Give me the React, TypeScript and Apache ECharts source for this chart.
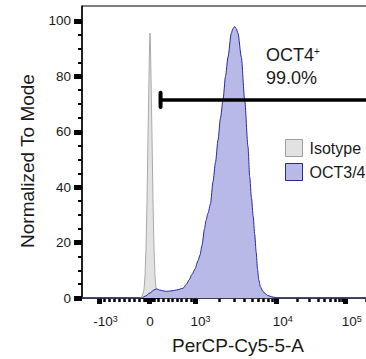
import React, { useEffect, useRef } from "react";
import * as echarts from "echarts";

// ---- data (x in display channels of the biexponential scale, y = % of mode) ----
const ISO_CH = [0, 58, 60, 62, 63, 64, 65, 66, 67, 67.6, 68, 68.4, 69, 70, 71, 72, 73, 74, 76, 78, 312];
const ISO_VAL = [0, 0, 0.5, 3, 8, 18, 35, 58, 80, 92, 95.6, 92, 80, 58, 35, 18, 8, 3, 0.5, 0, 0];

const OCT_CH = [0, 59.5, 63, 68, 72, 74.7, 78, 84.7, 90, 94.7, 101, 104.5, 107, 110, 113, 116, 118, 120, 122.5, 124, 126, 128.5, 131, 133.5, 136, 138.5, 141, 143.5, 146, 149.3, 151, 152.7, 154.2, 156, 159.3, 162.7, 166, 167.7, 169.5, 171.2, 172.7, 174.2, 175.5, 176.8, 178.5, 180.5, 183, 186, 190, 196, 312];
const OCT_VAL = [0, 0, 0.6, 1.8, 2.9, 3.3, 2.8, 2.4, 2.6, 2.9, 3.5, 5, 6.5, 8.5, 10.5, 13.5, 15.5, 19, 25, 28, 30.6, 34, 42, 49, 57, 65, 71.5, 80, 87, 95.6, 97.3, 98, 97.3, 95.6, 87, 71.5, 54.6, 43.8, 36, 29.5, 23, 16.5, 10.5, 6.5, 4, 2.6, 1.6, 0.9, 0.4, 0, 0];

// ---- axis ticks & labels ----
const Y_MAJOR = [0, 20, 40, 60, 80, 100];
const Y_MINOR = [5, 10, 15, 25, 30, 35, 45, 50, 55, 65, 70, 75, 85, 90, 95];
const X_MAJOR_RAW = [-1000, 0, 1000, 10000, 100000];
const X_LABEL_BASE = ["-10", "0", "10", "10", "10"];
const X_LABEL_EXP = ["3", "", "3", "4", "5"];
const X_LABEL_NUDGE = [6.5, 0.5, 5, 6.8, 6];

// gate
const GATE_START_RAW = 240;
const GATE_Y = 71.5;
const GATE_LABEL = "OCT4";
const GATE_PCT = "99.0%";

// ---- biexponential display scale ----
const DISP_MAX = 312;
const Y_MAX = 105.4;
const ZERO = 67.5;
const NEG_SLOPE = 0.0505;
const POS_SLOPE = 0.046;
const DEC_A = 80.5;
const DEC_B = 69.7;
function biex(v: number): number {
  const u1e3 = ZERO + 1000 * POS_SLOPE;
  const u1e4 = u1e3 + DEC_A;
  if (v < 0) return ZERO + v * NEG_SLOPE;
  if (v <= 1000) return ZERO + v * POS_SLOPE;
  if (v <= 10000) return u1e3 + DEC_A * Math.log10(v / 1000);
  return u1e4 + DEC_B * Math.log10(v / 10000);
}
function minorRaw(): number[] {
  const out: number[] = [];
  for (let k = 1; k <= 9; k++) {
    out.push(k * 10, -k * 10, k * 100, -k * 100);
    if (k >= 2) out.push(k * 1000, k * 10000, k * 100000);
  }
  return out;
}

const FONT = "'Liberation Sans', Arial, Helvetica, sans-serif";
const TXT = "#1a1a1a";
const ISO_FILL = "#e2e2e2";
const ISO_LINE = "#a9a9a9";
const OCT_FILL = "#b9b9e8";
const OCT_LINE = "#2a2a9c";

export default function App() {
  const ref = useRef<HTMLDivElement>(null);
  useEffect(() => {
    if (!ref.current) return;
    const chart = echarts.init(ref.current, undefined, { renderer: "svg" });
    const majorPos = X_MAJOR_RAW.map(biex);
    const labelPos = X_MAJOR_RAW.map((v, i) => biex(v) + X_LABEL_NUDGE[i]);
    const minorPos = minorRaw().map(biex).filter((u) => u >= 0 && u <= DISP_MAX);
    const gx = biex(GATE_START_RAW);

    chart.setOption({
      animation: false,
      grid: {
        left: 82, right: -28, top: 6, bottom: 61, show: true, borderColor: "#000", borderWidth: 1,
        backgroundColor: "transparent", containLabel: false, outerBoundsMode: "none",
      },
      xAxis: [
        {
          type: "value", position: "bottom", min: 0, max: DISP_MAX,
          axisLine: { show: true, onZero: false, lineStyle: { color: "#000", width: 1.5 } },
          axisTick: { show: true, customValues: majorPos, length: 6, lineStyle: { color: "#000", width: 5 } },
          axisLabel: {
            show: true, customValues: labelPos, margin: 16, color: TXT, fontSize: 13.5, fontFamily: FONT,
            formatter: (v: number) => {
              let best = 0;
              labelPos.forEach((p, i) => { if (Math.abs(p - v) < Math.abs(labelPos[best] - v)) best = i; });
              const b = X_LABEL_BASE[best];
              const e = X_LABEL_EXP[best];
              return e ? `{b|${b}}{s|${e}}` : `{b|${b}}`;
            },
            rich: {
              b: { fontSize: 13.5, color: TXT, fontFamily: FONT, verticalAlign: "bottom" },
              s: { fontSize: 9, color: TXT, fontFamily: FONT, verticalAlign: "top" },
            },
          },
          splitLine: { show: false },
          name: "PerCP-Cy5-5-A", nameLocation: "middle", nameGap: 38,
          nameTextStyle: { fontSize: 19, color: TXT, fontFamily: FONT },
        },
        {
          type: "value", position: "bottom", min: 0, max: DISP_MAX,
          axisLine: { show: false, onZero: false },
          axisTick: { show: true, customValues: minorPos, length: 4, lineStyle: { color: "#000", width: 2.5 } },
          axisLabel: { show: false },
          splitLine: { show: false },
        },
      ],
      yAxis: [
        {
          type: "value", position: "left", min: 0, max: Y_MAX,
          axisLine: { show: true, onZero: false, lineStyle: { color: "#000", width: 1.5 } },
          axisTick: { show: true, customValues: Y_MAJOR, length: 8, lineStyle: { color: "#000", width: 5 } },
          axisLabel: { show: true, customValues: Y_MAJOR, margin: 11, color: TXT, fontSize: 13.5, fontFamily: FONT },
          splitLine: { show: false },
        },
        {
          type: "value", position: "left", min: 0, max: Y_MAX,
          axisLine: { show: false, onZero: false },
          axisTick: { show: true, customValues: Y_MINOR, length: 4, lineStyle: { color: "#000", width: 2 } },
          axisLabel: { show: false },
          splitLine: { show: false },
        },
      ],
      legend: {
        orient: "vertical", left: 285, top: 139, itemWidth: 17, itemHeight: 17, itemGap: 6, padding: 0,
        selectedMode: false,
        textStyle: { fontSize: 16, color: TXT, fontFamily: FONT, padding: [0, 0, 0, 2] },
        data: [
          { name: "Isotype", icon: "rect", itemStyle: { color: ISO_FILL, borderColor: "#a0a0a0", borderWidth: 1 } },
          { name: "OCT3/4", icon: "rect", itemStyle: { color: OCT_FILL, borderColor: OCT_LINE, borderWidth: 1 } },
        ],
      },
      series: [
        {
          name: "Isotype", type: "line", xAxisIndex: 0, yAxisIndex: 0, showSymbol: false, symbol: "none",
          data: ISO_CH.map((c, i) => [c, ISO_VAL[i]]),
          lineStyle: { color: ISO_LINE, width: 1 }, itemStyle: { color: ISO_FILL },
          areaStyle: { color: ISO_FILL, opacity: 1 }, z: 2,
        },
        {
          name: "OCT3/4", type: "line", xAxisIndex: 0, yAxisIndex: 0, showSymbol: false, symbol: "none",
          smooth: 0.25, smoothMonotone: "x",
          data: OCT_CH.map((c, i) => [c, OCT_VAL[i]]),
          lineStyle: { color: OCT_LINE, width: 1 }, itemStyle: { color: OCT_FILL },
          areaStyle: { color: OCT_FILL, opacity: 1 }, z: 3,
        },
        {
          name: "gate", type: "line", symbol: "none", silent: true, z: 5,
          data: [[gx, GATE_Y], [DISP_MAX, GATE_Y]],
          lineStyle: { color: "#000", width: 3.5 },
        },
        {
          name: "gateCap", type: "line", symbol: "none", silent: true, z: 5,
          data: [[gx, GATE_Y - 2.6], [gx, GATE_Y + 2.6]],
          lineStyle: { color: "#000", width: 4, cap: "round" },
        },
      ],
      graphic: [
        {
          type: "text", x: 27.5, y: 161, rotation: Math.PI / 2,
          style: { text: "Normalized To Mode", fill: TXT, font: `19px ${FONT}`, align: "center", verticalAlign: "middle" },
        },
        {
          type: "text", x: 266, y: 55,
          style: {
            text: `{m|${GATE_LABEL}}{s|+}`, fill: TXT, align: "left", verticalAlign: "middle",
            rich: {
              m: { fontSize: 18, fontFamily: FONT, fill: TXT, verticalAlign: "bottom" },
              s: { fontSize: 10, fontFamily: FONT, fill: TXT, verticalAlign: "top" },
            },
          },
        },
        {
          type: "text", x: 266, y: 78,
          style: { text: GATE_PCT, fill: TXT, font: `18px ${FONT}`, align: "left", verticalAlign: "middle" },
        },
      ],
    });
    return () => chart.dispose();
  }, []);
  return <div ref={ref} style={{ width: 366, height: 359, position: "absolute", left: 0, top: 0 }} />;
}
